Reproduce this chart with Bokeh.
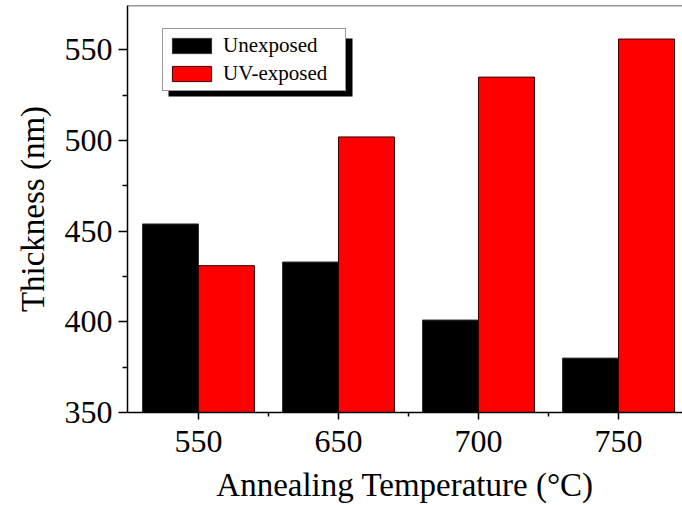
from bokeh.plotting import figure
from bokeh.models import (Range1d, FixedTicker, Legend, LegendItem, Span,
                          BoxAnnotation, ColumnDataSource, Title)
from bokeh.embed import file_html
from bokeh.resources import INLINE

# Film thickness vs. annealing temperature
temperatures = ["550", "650", "700", "750"]
unexposed = [454, 433, 401, 380]
uv_exposed = [431, 502, 535, 556]

y_ticks = [350, 400, 450, 500, 550]
y_minor = [375, 425, 475, 525]

FONT = "Liberation Serif"
BAR_W = 0.4

pos = list(range(len(temperatures)))
src = ColumnDataSource(dict(
    x_un=[p - BAR_W / 2 for p in pos],
    x_uv=[p + BAR_W / 2 for p in pos],
    unexposed=unexposed,
    uv_exposed=uv_exposed,
))

p = figure(width=682, height=505, output_backend="svg", toolbar_location=None,
           x_range=Range1d(-0.507, 3.457), y_range=Range1d(350, 574.5),
           min_border_left=127, min_border_right=0, min_border_top=5,
           min_border_bottom=93)
p.outline_line_color = None
p.grid.visible = False
p.background_fill_color = "white"

r_un = p.vbar(x="x_un", top="unexposed", bottom=350, width=BAR_W, source=src,
              fill_color="black", line_color="#333333", line_width=1)
r_uv = p.vbar(x="x_uv", top="uv_exposed", bottom=350, width=BAR_W, source=src,
              fill_color="#ff0000", line_color="#3a0000", line_width=1)

# x axis: one labelled tick per temperature, minor ticks between groups
p.xaxis.ticker = FixedTicker(ticks=pos, minor_ticks=[i + 0.5 for i in pos[:-1]])
p.xaxis.major_label_overrides = {i: t for i, t in zip(pos, temperatures)}
p.xaxis.axis_label = "Annealing Temperature (°C)"

p.yaxis.ticker = FixedTicker(ticks=y_ticks, minor_ticks=y_minor)

for ax in (p.xaxis[0], p.yaxis[0]):
    ax.axis_line_color = "black"
    ax.axis_line_width = 1.5
    ax.major_tick_line_color = "black"
    ax.minor_tick_line_color = "black"
    ax.major_tick_line_width = 1.5
    ax.minor_tick_line_width = 1.5
    ax.major_tick_in = 0
    ax.minor_tick_in = 0
    ax.major_label_text_font = FONT
    ax.major_label_text_font_size = "32px"
    ax.major_label_text_color = "black"
    ax.major_label_text_line_height = 1.0
    ax.axis_label_text_font = FONT
    ax.axis_label_text_font_size = "33px"
    ax.axis_label_text_font_style = "normal"
    ax.axis_label_text_color = "black"
    ax.axis_label_text_line_height = 1.0

p.xaxis.major_tick_out = 7
p.xaxis.minor_tick_out = 4
p.xaxis.major_label_standoff = 11
p.xaxis.axis_label_standoff = 12
p.yaxis.major_tick_out = 9
p.yaxis.minor_tick_out = 5
p.yaxis.major_label_standoff = 6

# y axis title, set slightly below the frame centre
ytitle = Title(text="Thickness (nm)", align="center", offset=-22, standoff=22,
               text_font=FONT, text_font_size="33px", text_font_style="normal",
               text_color="black", text_line_height=1.0)
p.add_layout(ytitle, "left")

# top frame line
p.add_layout(Span(location=574.5, dimension="width", line_color="#333333",
                  line_width=1.5))

# legend with drop shadow
shadow = BoxAnnotation(left=41, right=225, bottom=316, top=374,
                       left_units="screen", right_units="screen",
                       top_units="screen", bottom_units="screen",
                       fill_color="black", fill_alpha=1.0, line_color=None,
                       level="annotation")
p.add_layout(shadow)

legend = Legend(items=[LegendItem(label="Unexposed", renderers=[r_un]),
                       LegendItem(label="UV-exposed", renderers=[r_uv])],
                location=(35, 321), orientation="vertical",
                label_text_font=FONT, label_text_font_size="21px",
                label_text_color="black",
                glyph_width=49, glyph_height=19, label_height=19,
                label_width=118, label_standoff=7, spacing=3, padding=4,
                margin=0,
                border_line_color="#333333", border_line_width=1,
                background_fill_color="white", background_fill_alpha=1.0)
p.add_layout(legend)

open("out.html", "w").write(file_html(p, INLINE))
